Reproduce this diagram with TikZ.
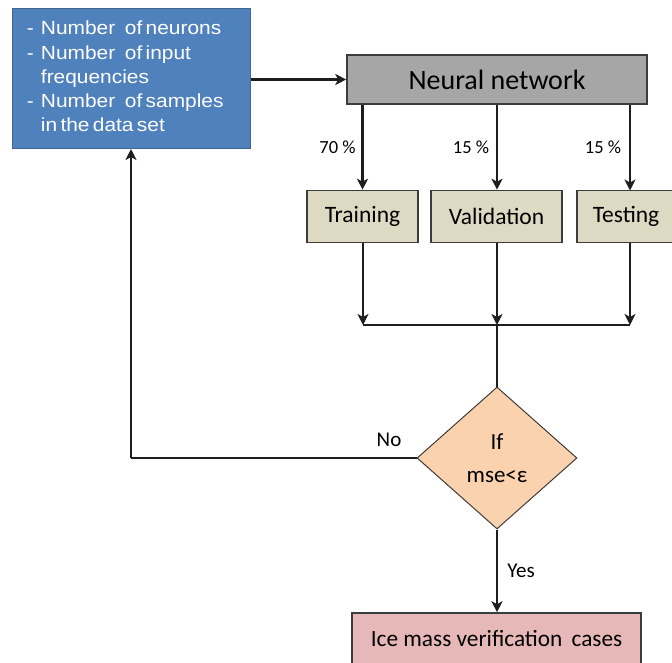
\documentclass[tikz,border=0pt]{standalone}
\usepackage{fontspec}
\setmainfont{Carlito}
\newfontfamily\listfont[FakeStretch=1.1]{Liberation Sans}
\usetikzlibrary{arrows.meta,shapes.geometric}

\definecolor{paramblue}{HTML}{4F81BD}
\definecolor{paramedge}{HTML}{41678F}
\definecolor{netgray}{HTML}{A6A6A6}
\definecolor{setbeige}{HTML}{DDD9C3}
\definecolor{decpeach}{HTML}{FAD3AE}
\definecolor{outpink}{HTML}{E6B8B7}
\definecolor{edgegray}{HTML}{3C3C3C}
\definecolor{linedark}{HTML}{1E1E1E}

\tikzset{
  boxbase/.style={draw=edgegray, line width=1.6pt, inner sep=0pt, rectangle},
  setbox/.style={boxbase, fill=setbeige, minimum height=52pt,
    font=\fontsize{23.5}{28}\selectfont},
  flow/.style={draw=linedark, line width=2.3pt,
    -{Stealth[length=11pt,width=11pt,inset=3pt]}},
  plain/.style={draw=linedark, line width=2.3pt},
  lbl/.style={inner sep=0pt, font=\fontsize{18.5}{20}\selectfont},
  biglbl/.style={inner sep=0pt, font=\fontsize{21}{24}\selectfont},
}

\begin{document}
\begin{tikzpicture}[x=1pt, y=-1pt]
  \useasboundingbox (0,0) rectangle (672,662);
  \clip (0,0) rectangle (672,662);

  % parameter box
  \node[boxbase, draw=paramedge, line width=1pt, fill=paramblue,
        minimum width=238pt, minimum height=140pt,
        text=white, text width=208pt, align=left]
    (param) at (131,78.5)
    {\listfont\fontsize{19}{24.3}\selectfont
     \begin{tabular}{@{}l@{\hspace{7pt}}l@{}}
       - & Number\,\, of neurons\\
       - & Number\,\, of input\\
         & frequencies\\
       - & Number\,\, of samples\\
         & in the data set
     \end{tabular}};

  % neural network
  \node[boxbase, fill=netgray, minimum width=300pt, minimum height=49pt,
        font=\fontsize{28}{32}\selectfont]
    (net) at (497,79.5) {Neural network};

  % data subsets
  \node[setbox, minimum width=111pt] (train) at (362.5,216.5) {Training};
  \node[setbox, minimum width=131pt] (valid) at (496.5,216.5) {Validation};
  \node[setbox, minimum width=98pt]  (test)  at (626,216.5)   {Testing};

  % decision
  \node[diamond, draw=edgegray, line width=1pt, fill=decpeach, inner sep=0pt,
        minimum width=160pt, minimum height=142pt, align=center,
        font=\fontsize{23}{33}\selectfont]
    (dec) at (497,458) {If\\mse<ε};

  % result (runs past the lower edge)
  \node[boxbase, fill=outpink, minimum width=289pt, minimum height=56pt,
        text depth=6pt, font=\fontsize{23.3}{28}\selectfont]
    (out) at (496.5,641) {Ice mass verification\, cases};

  % helper points
  \coordinate (jl) at (363,325);
  \coordinate (jm) at (497,325);
  \coordinate (jr) at (630,325);
  \coordinate (nocorner) at (131,458);
  \coordinate (testtop) at (630,190.5);
  \coordinate (testbot) at (630,242.5);

  % connectors
  \draw[flow] (param.east |- net.west) -- (net.west);
  \draw[flow] (net.south -| train.north) -- (train.north);
  \draw[flow] (net.south -| jm) -- (valid.north -| jm);
  \draw[flow] (net.south -| testtop) -- (testtop);

  \draw[flow] (train.south -| jl) -- (jl);
  \draw[flow] (valid.south -| jm) -- (jm);
  \draw[flow] (testbot) -- (jr);
  \draw[plain] (jl) -- (jr);
  \draw[plain] (jm) -- (jm |- dec.north);

  \draw[plain] (dec.west) -- (nocorner);
  \draw[flow] (nocorner) -- (param.south);
  \draw[flow] (dec.south) -- (out.north -| dec.south);

  % labels
  \node[lbl] (p70) at (337.5,147) {70 \%};
  \node[lbl] (p15a) at (471,147) {15 \%};
  \node[lbl] (p15b) at (603,147) {15 \%};
  \node[biglbl] (no) at (389,440) {No};
  \node[biglbl] (yes) at (521,571) {Yes};
\end{tikzpicture}
\end{document}
